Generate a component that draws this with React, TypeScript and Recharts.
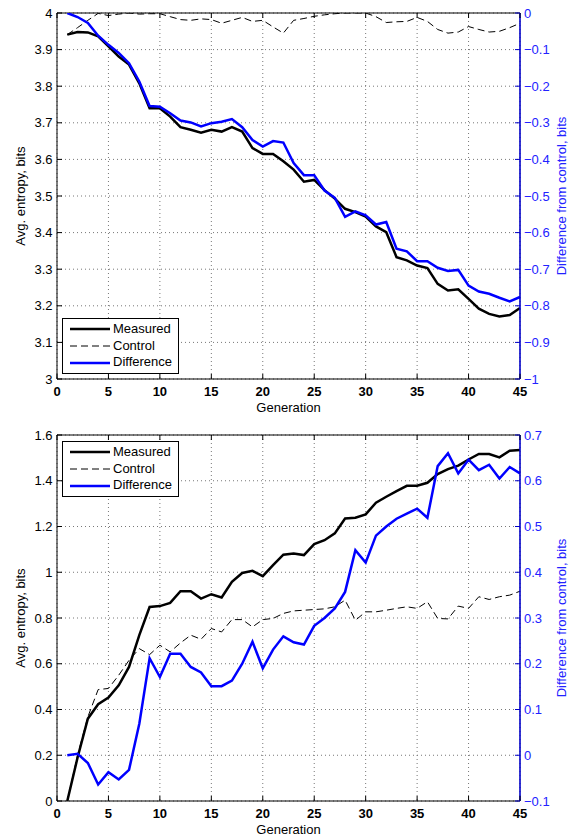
import { CartesianGrid, Legend, Line, LineChart, ReferenceLine, XAxis, YAxis } from "recharts";

const generations = [
  1, 2, 3, 4, 5, 6, 7, 8, 9, 10, 11, 12, 13, 14, 15, 16, 17, 18, 19, 20, 21, 22, 23,
  24, 25, 26, 27, 28, 29, 30, 31, 32, 33, 34, 35, 36, 37, 38, 39, 40, 41, 42, 43, 44, 45
];

// upper panel
const topMeasured = [
  3.941, 3.948, 3.947, 3.936, 3.909, 3.881, 3.859, 3.808, 3.74, 3.74, 3.717, 3.688, 3.681,
  3.673, 3.681, 3.676, 3.688, 3.676, 3.631, 3.615, 3.615, 3.595, 3.572, 3.539, 3.544, 3.516,
  3.493, 3.465, 3.456, 3.444, 3.417, 3.401, 3.333, 3.324, 3.31, 3.303, 3.26, 3.242, 3.245,
  3.219, 3.192, 3.178, 3.171, 3.175, 3.194
];
const topControl = [
  3.941, 3.96, 3.98, 3.999, 3.993, 3.997, 4.0, 3.997, 3.998, 3.998, 3.99, 3.982, 3.98, 3.984,
  3.982, 3.972, 3.98, 3.988, 3.977, 3.98, 3.962, 3.945, 3.98, 3.985, 3.991, 3.995, 3.998, 4.0,
  4.0, 4.0, 3.99, 3.974, 3.976, 3.977, 3.988, 3.977, 3.955, 3.945, 3.948, 3.963, 3.955, 3.948,
  3.95, 3.96, 3.972
];
const topDiff = [
  0, -0.011, -0.027, -0.062, -0.087, -0.109, -0.137, -0.187, -0.254, -0.256, -0.274, -0.294,
  -0.299, -0.31, -0.301, -0.297, -0.29, -0.312, -0.347, -0.365, -0.35, -0.354, -0.41, -0.443,
  -0.443, -0.485, -0.505, -0.557, -0.542, -0.553, -0.578, -0.571, -0.644, -0.651, -0.678,
  -0.678, -0.696, -0.705, -0.702, -0.745, -0.761, -0.767, -0.778, -0.788, -0.776
];

// lower panel
const bottomMeasured = [
  0, 0.19, 0.36, 0.423, 0.452, 0.506, 0.586, 0.725, 0.848, 0.852, 0.866, 0.917, 0.917, 0.885,
  0.904, 0.89, 0.958, 0.997, 1.006, 0.983, 1.031, 1.077, 1.082, 1.075, 1.123, 1.14, 1.17,
  1.235, 1.238, 1.253, 1.304, 1.33, 1.355, 1.378, 1.378, 1.391, 1.429, 1.451, 1.466, 1.493,
  1.517, 1.517, 1.502, 1.531, 1.534
];
const bottomControl = [
  0, 0.2, 0.368, 0.487, 0.492, 0.55, 0.615, 0.666, 0.64, 0.681, 0.652, 0.691, 0.725, 0.707,
  0.754, 0.739, 0.793, 0.793, 0.761, 0.793, 0.798, 0.82, 0.831, 0.834, 0.837, 0.84, 0.849,
  0.878, 0.79, 0.827, 0.827, 0.834, 0.842, 0.849, 0.842, 0.871, 0.798, 0.796, 0.852, 0.842,
  0.893, 0.881, 0.893, 0.9, 0.917
];
const bottomDiff = [
  0, 0.003, -0.017, -0.064, -0.037, -0.053, -0.032, 0.069, 0.212, 0.171, 0.222, 0.222, 0.193,
  0.181, 0.151, 0.151, 0.163, 0.2, 0.248, 0.19, 0.231, 0.26, 0.247, 0.242, 0.283, 0.3, 0.321,
  0.357, 0.448, 0.421, 0.48, 0.5, 0.517, 0.528, 0.539, 0.519, 0.632, 0.66, 0.616, 0.646,
  0.623, 0.635, 0.605, 0.63, 0.616
];

const genTicks = [0, 5, 10, 15, 20, 25, 30, 35, 40, 45];
const topLeftTicks = [3, 3.1, 3.2, 3.3, 3.4, 3.5, 3.6, 3.7, 3.8, 3.9, 4];
const topRightTicks = [-1, -0.9, -0.8, -0.7, -0.6, -0.5, -0.4, -0.3, -0.2, -0.1, 0];
const bottomLeftTicks = [0, 0.2, 0.4, 0.6, 0.8, 1, 1.2, 1.4, 1.6];
const bottomRightTicks = [-0.1, 0, 0.1, 0.2, 0.3, 0.4, 0.5, 0.6, 0.7];
const legendOrder = ["Measured", "Control", "Difference"];

const FONT = '"Liberation Sans", Arial, Helvetica, sans-serif';
const BLUE = "#0000ff";
const BLUE_TEXT = "#2222ff";
const BLUE_AXIS = "#0000c8";
const PLOT_H = 366;

const fmt = (v: number) => (v < 0 ? `\u2212${Math.abs(v)}` : `${v}`);

function XTick(props: any) {
  const { x, y, payload } = props;
  return (
    <g>
      <line x1={x} x2={x} y1={y} y2={y - 5} stroke="#000" />
      <line x1={x} x2={x} y1={y - PLOT_H} y2={y - PLOT_H + 5} stroke="#000" />
      <text x={x} y={y + 16.5} textAnchor="middle" fontSize={13} fontWeight="bold" fontFamily={FONT} fill="#000">
        {payload.value}
      </text>
    </g>
  );
}

function LeftTick(props: any) {
  const { x, y, payload } = props;
  return (
    <g>
      <line x1={x} x2={x + 5} y1={y} y2={y} stroke="#000" />
      <text x={x - 4.5} y={y + 4.5} textAnchor="end" fontSize={13} fontFamily={FONT} fill="#000">
        {fmt(payload.value)}
      </text>
    </g>
  );
}

function RightTick(props: any) {
  const { x, y, payload } = props;
  return (
    <g>
      <line x1={x} x2={x - 5} y1={y} y2={y} stroke={BLUE_AXIS} />
      <text x={x + 4} y={y + 4.5} textAnchor="start" fontSize={13} fontFamily={FONT} fill={BLUE_TEXT}>
        {fmt(payload.value)}
      </text>
    </g>
  );
}

function yTitle(text: string, cx: number, color: string) {
  return (props: any) => {
    const vb = props.viewBox || { y: 0, height: 0 };
    const cy = vb.y + vb.height / 2;
    return (
      <text x={cx} y={cy} transform={`rotate(-90 ${cx} ${cy})`} textAnchor="middle" dominantBaseline="central"
        fontSize={13} fontFamily={FONT} fill={color}>
        {text}
      </text>
    );
  };
}

function xTitle(props: any) {
  const vb = props.viewBox || { x: 0, y: 0, width: 0 };
  return (
    <text x={vb.x + vb.width / 2} y={vb.y + 32.5} textAnchor="middle" fontSize={13} fontFamily={FONT} fill="#000">
      Generation
    </text>
  );
}

function LegendBox(props: any) {
  const items = [...(props.payload || [])].sort(
    (a: any, b: any) => legendOrder.indexOf(a.value) - legendOrder.indexOf(b.value)
  );
  return (
    <div style={{ border: "1.3px solid #000", background: "#fff", width: 115, padding: "2px 0", fontFamily: FONT, fontSize: 13, lineHeight: "16.7px" }}>
      {items.map((it: any) => (
        <div key={it.value} style={{ display: "flex", alignItems: "center", height: 16.7 }}>
          <svg width={50} height={10} style={{ flex: "none" }}>
            <line x1={7} x2={47} y1={5} y2={5} stroke={it.color}
              strokeWidth={it.payload?.strokeWidth ?? 2}
              strokeDasharray={it.payload?.strokeDasharray} />
          </svg>
          <span style={{ color: "#000" }}>{it.value}</span>
        </div>
      ))}
    </div>
  );
}

type PanelProps = {
  measured: number[];
  control: number[];
  diff: number[];
  leftTicks: number[];
  rightTicks: number[];
  marginTop: number;
  xHeight: number;
  legendTop: number;
};

function Panel({ measured, control, diff, leftTicks, rightTicks, marginTop, xHeight, legendTop }: PanelProps) {
  const data = generations.map((g, i) => ({ gen: g, measured: measured[i], control: control[i], diff: diff[i] }));
  const leftDomain = [leftTicks[0], leftTicks[leftTicks.length - 1]];
  const rightDomain = [rightTicks[0], rightTicks[rightTicks.length - 1]];
  return (
    <LineChart width={574} height={419} data={data} margin={{ top: marginTop, right: 0, bottom: 0, left: 0 }}>
      <CartesianGrid yAxisId="left" stroke="#777" strokeDasharray="1 3" />
      <XAxis dataKey="gen" type="number" domain={[0, 45]} ticks={genTicks} interval={0} height={xHeight}
        tickSize={0} tickMargin={0} tick={(p: any) => <XTick {...p} />} axisLine={{ stroke: "#000" }}
        label={xTitle} />
      <YAxis yAxisId="left" domain={leftDomain} ticks={leftTicks} interval={0} width={57} allowDataOverflow
        tickSize={0} tickMargin={0} tick={(p: any) => <LeftTick {...p} />} axisLine={{ stroke: "#000" }}
        label={yTitle("Avg. entropy, bits", 20, "#000")} />
      <YAxis yAxisId="right" orientation="right" domain={rightDomain} ticks={rightTicks} interval={0} width={54}
        allowDataOverflow tickSize={0} tickMargin={0} tick={(p: any) => <RightTick {...p} />}
        axisLine={{ stroke: BLUE_AXIS, strokeWidth: 1.6 }}
        label={yTitle("Difference from control, bits", 561, BLUE_TEXT)} />
      <ReferenceLine yAxisId="left" y={leftDomain[1]} stroke="#000" />
      <Legend layout="vertical" align="center" verticalAlign="middle" content={LegendBox}
        wrapperStyle={{ left: 62, top: legendTop, width: 118, height: 55 }} />
      <Line yAxisId="left" dataKey="measured" name="Measured" stroke="#000" strokeWidth={2.5} dot={false}
        type="linear" isAnimationActive={false} />
      <Line yAxisId="left" dataKey="control" name="Control" stroke="#000" strokeWidth={1} strokeDasharray="7 4"
        dot={false} type="linear" isAnimationActive={false} />
      <Line yAxisId="right" dataKey="diff" name="Difference" stroke={BLUE} strokeWidth={2.5} dot={false}
        type="linear" isAnimationActive={false} />
    </LineChart>
  );
}

export default function App() {
  return (
    <div style={{ position: "absolute", left: 0, top: 0, width: 574, height: 838, background: "#fff" }}>
      <Panel measured={topMeasured} control={topControl} diff={topDiff} leftTicks={topLeftTicks}
        rightTicks={topRightTicks} marginTop={13} xHeight={40} legendTop={318} />
      <Panel measured={bottomMeasured} control={bottomControl} diff={bottomDiff} leftTicks={bottomLeftTicks}
        rightTicks={bottomRightTicks} marginTop={16} xHeight={37} legendTop={22} />
    </div>
  );
}
